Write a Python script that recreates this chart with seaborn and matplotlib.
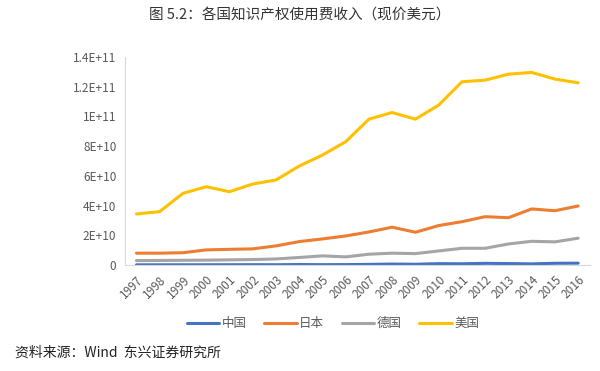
import numpy as np
import pandas as pd
import seaborn as sns
import matplotlib.pyplot as plt
from matplotlib.ticker import FuncFormatter

years = list(range(1997, 2017))
countries = ['中国', '日本', '德国', '美国']

# values in billions of current USD
china = [0.05, 0.06, 0.08, 0.08, 0.11, 0.13, 0.11, 0.24, 0.16, 0.20,
         0.34, 0.57, 0.43, 0.83, 0.74, 1.04, 0.89, 0.68, 1.08, 1.16]
japan = [7.9, 7.9, 8.2, 10.1, 10.5, 10.8, 12.8, 15.7, 17.5, 19.5,
         22.2, 25.4, 22.0, 26.5, 29.1, 32.5, 31.8, 37.7, 36.5, 39.7]
germany = [2.9, 3.0, 3.1, 3.2, 3.4, 3.6, 4.0, 5.0, 6.1, 5.4,
           7.2, 7.9, 7.6, 9.4, 11.2, 11.2, 14.1, 15.9, 15.5, 18.0]
usa = [34.3, 35.9, 48.2, 52.7, 49.3, 54.5, 57.2, 66.6, 74.0, 83.0,
       98.2, 102.7, 98.2, 107.7, 123.4, 124.5, 128.5, 129.7, 125.2, 122.7]

colors = ['#4472C4', '#ED7D31', '#A5A5A5', '#FFC000']

df = pd.DataFrame({
    'year': years * 4,
    'value': [v * 1e9 for v in china + japan + germany + usa],
    'country': sum([[c] * len(years) for c in countries], []),
})

sns.set_style('white')
plt.rcParams['font.family'] = ['Noto Sans CJK SC', 'DejaVu Sans']

fig = plt.figure(figsize=(6, 3.71), dpi=100)
ax = fig.add_axes([0.208, 0.286, 0.775, 0.56])

sns.lineplot(data=df, x='year', y='value', hue='country', hue_order=countries,
             palette=colors, linewidth=2.2, ax=ax, legend=True)

ax.set_ylim(0, 1.4e11)
ax.set_xlim(1996.5, 2016.5)
ax.set_yticks(np.arange(0, 1.41e11, 2e10))


def sci(v, pos):
    if v == 0:
        return '0'
    s = '%.1E' % v
    mant, exp = s.split('E')
    mant = mant.rstrip('0').rstrip('.')
    return '%sE+%d' % (mant, int(exp))


ax.yaxis.set_major_formatter(FuncFormatter(sci))
ax.set_xticks(years)
ax.set_xticklabels([str(y) for y in years], rotation=45, ha='right',
                   rotation_mode='anchor')
ax.tick_params(axis='both', labelsize=8.5, colors='#595959', length=0, pad=6)
ax.set_xlabel('')
ax.set_ylabel('')

for side in ['top', 'right']:
    ax.spines[side].set_visible(False)
for side in ['left', 'bottom']:
    ax.spines[side].set_color('#D9D9D9')
    ax.spines[side].set_linewidth(0.8)

handles, labels = ax.get_legend_handles_labels()
ax.get_legend().remove()
fig.legend(handles, labels, loc='center', bbox_to_anchor=(0.555, 0.128), ncol=4,
           frameon=False, fontsize=9, handlelength=2.6, columnspacing=1.4,
           handletextpad=0.2, labelcolor='#595959')

fig.text(0.5, 0.958, '图 5.2：各国知识产权使用费收入（现价美元）', ha='center', va='center',
         fontsize=10.5, color='#333333')
fig.text(0.025, 0.05, '资料来源：Wind  东兴证券研究所', ha='left', va='center',
         fontsize=10, style='italic', color='#222222')

fig.savefig('out.png', dpi=100)
